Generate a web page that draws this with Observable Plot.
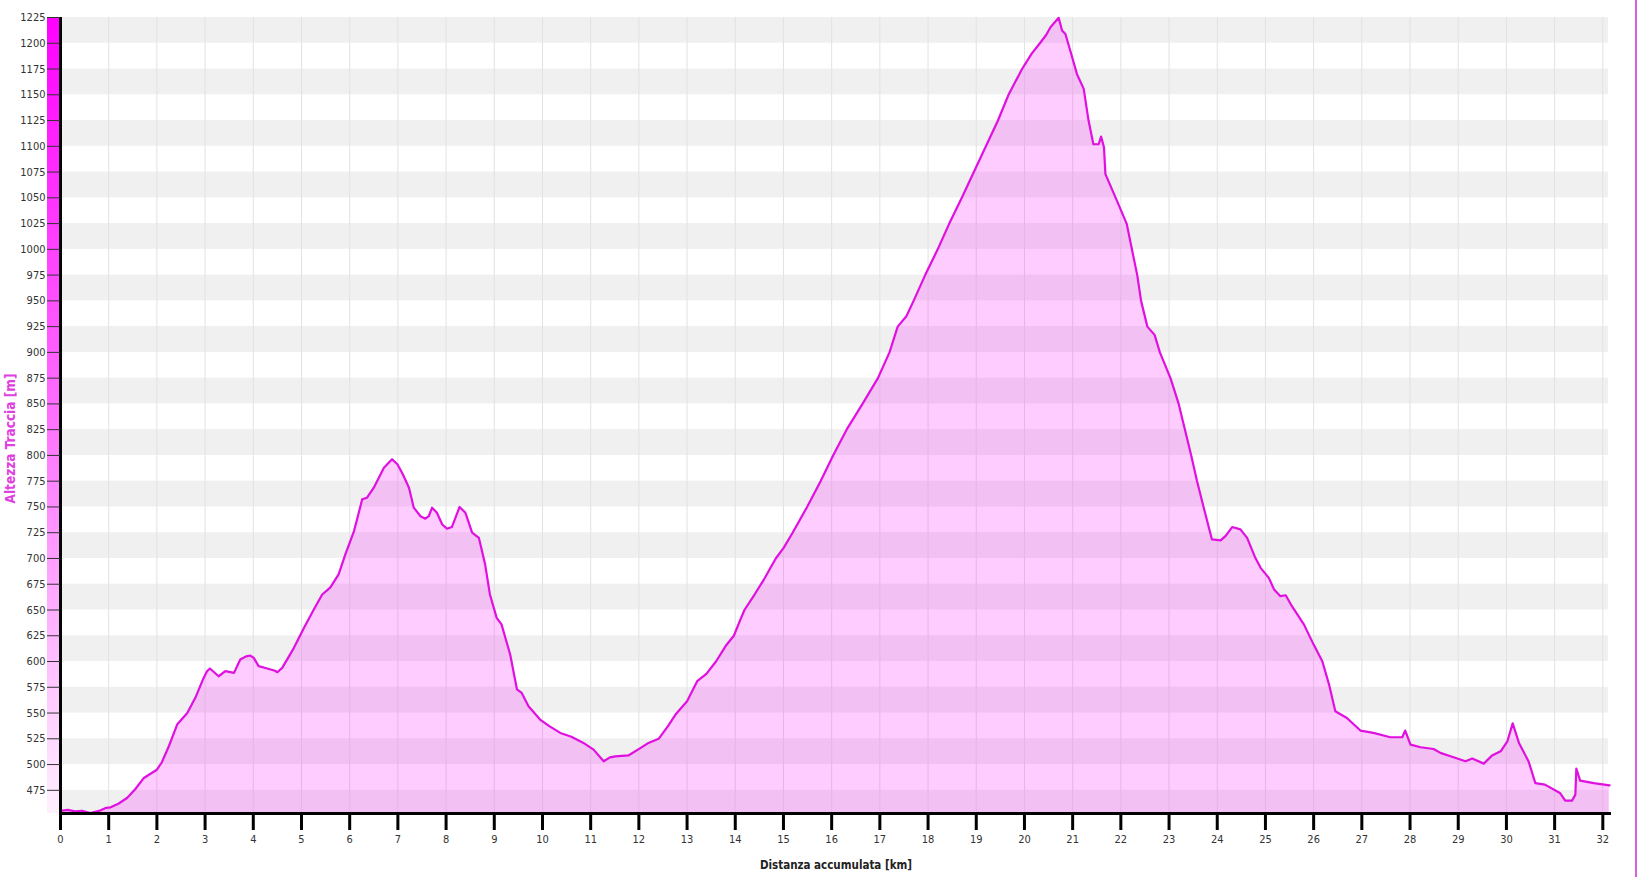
<!DOCTYPE html>
<html><head><meta charset="utf-8">
<script src="https://cdn.jsdelivr.net/npm/d3@7"></script>
<script src="https://cdn.jsdelivr.net/npm/@observablehq/plot@0.6"></script>
<style>body{margin:0;background:#fff;overflow:hidden}</style>
</head><body><div id="chart"></div>
<script>
// Distance along the track (km) and elevation (m)
const km = [0.00,0.15,0.30,0.45,0.62,0.80,0.95,1.04,1.20,1.38,1.55,1.73,1.90,2.00,2.10,2.25,2.42,2.63,2.80,2.95,3.04,3.10,3.28,3.42,3.50,3.60,3.73,3.85,3.94,4.01,4.11,4.29,4.45,4.50,4.60,4.84,5.05,5.25,5.43,5.53,5.60,5.77,5.91,6.09,6.26,6.36,6.50,6.71,6.88,6.99,7.10,7.23,7.33,7.47,7.57,7.64,7.71,7.81,7.92,8.02,8.12,8.28,8.40,8.54,8.68,8.81,8.91,9.05,9.15,9.33,9.47,9.57,9.71,9.95,10.15,10.37,10.60,10.85,11.06,11.27,11.40,11.51,11.79,12.03,12.20,12.41,12.60,12.76,13.00,13.21,13.40,13.60,13.80,13.97,14.10,14.19,14.40,14.60,14.84,15.00,15.19,15.49,15.77,16.03,16.31,16.64,16.96,17.20,17.37,17.55,17.70,17.94,18.20,18.44,18.70,18.95,19.20,19.45,19.67,19.95,20.15,20.32,20.45,20.54,20.71,20.78,20.85,20.95,21.09,21.23,21.33,21.43,21.54,21.59,21.65,21.68,21.92,22.12,22.23,22.34,22.42,22.55,22.70,22.81,23.03,23.20,23.33,23.46,23.58,23.72,23.89,24.07,24.17,24.31,24.48,24.62,24.79,24.90,25.07,25.18,25.31,25.42,25.55,25.80,26.00,26.18,26.32,26.45,26.69,26.97,27.24,27.59,27.84,27.90,28.01,28.22,28.49,28.63,28.84,29.15,29.29,29.53,29.70,29.88,30.02,30.13,30.26,30.46,30.60,30.80,31.11,31.22,31.36,31.43,31.45,31.53,31.81,32.14];
const elev = [455,456,454.5,455,453,455,458,458.5,462,467.5,476,487,492,495,502,518,538.8,550,565,582,590.6,593.2,585.7,590.6,590,589,602,605,605.8,603.5,595.5,593.2,591,589.6,593.8,613,632.6,650,665,669,672,684.5,704,726.6,757.4,759,768.7,788,796.3,791.4,782,768.7,749.3,741,738.6,741,749.3,744.4,733,728.9,730.5,750,744.4,725,720,694.3,665,642.4,636,606.8,573,569.5,556.6,543.7,537,530.7,527,521,514.5,503.2,507,508,509,516,521,525,537,548.5,561.4,580.9,588,600,615,625,640,650,665,680,700,710,725,750,775,800,825,850,875,900,925,935,950,975,1000,1025,1050,1075,1100,1125,1150,1175,1190,1200,1208,1215.6,1224.7,1212.4,1209,1193,1170,1155.7,1125,1102,1102,1109.4,1099,1073,1047,1025,1000,975,950,925,917,900,875,850,825,800,775.2,749.2,718.5,717.5,721.7,730.5,728.2,720,700.6,690.9,681.2,669.8,663.4,664.3,653.7,635.8,616.4,600.3,577.6,551.7,545.2,533,530.7,526.5,526.5,533,519.4,516.8,515.1,511.3,508,503.2,505.8,500.9,508.7,512.9,522.6,540,521,503,482,480.5,472.4,464.9,464.9,470.8,496,484.4,482,479.8];
const xTicks = [0,1,2,3,4,5,6,7,8,9,10,11,12,13,14,15,16,17,18,19,20,21,22,23,24,25,26,27,28,29,30,31,32];
const yTicks = [475,500,525,550,575,600,625,650,675,700,725,750,775,800,825,850,875,900,925,950,975,1000,1025,1050,1075,1100,1125,1150,1175,1200,1225];
const xLabel = "Distanza accumulata [km]";
const yLabel = "Altezza Traccia [m]";
const xMax = 32.18, yMin = 452.5, yMax = 1225, bandEnd = 32.12;

const profile = km.map((d, i) => ({km: d, elev: elev[i]}));
const bands = yTicks.filter(t => (yMax - t) % 50 === 0).map(t => ({y1: Math.max(t - 25, yMin), y2: t}));

const chart = Plot.plot({
  width: 1638, height: 877,
  marginLeft: 60, marginRight: 27, marginTop: 17, marginBottom: 64,
  x: {domain: [0, xMax]},
  y: {domain: [yMin, yMax]},
  style: {fontFamily: "'DejaVu Sans Condensed', 'DejaVu Sans', sans-serif", fontSize: "11px", color: "#333", background: "#fff"},
  marks: [
    Plot.rect(bands, {x1: 0, x2: bandEnd, y1: "y1", y2: "y2", fill: "#f0f0f0"}),
    Plot.ruleX(xTicks, {stroke: "#e2e2e2", strokeWidth: 1}),
    Plot.areaY(profile, {x: "km", y1: yMin, y2: "elev", fill: "#ff00ff", fillOpacity: 0.2}),
    Plot.lineY(profile, {x: "km", y: "elev", stroke: "#e010e0", strokeWidth: 2.2}),
    Plot.ruleX([0], {stroke: "black", strokeWidth: 3}),
    Plot.ruleY([yMin], {x1: 0, x2: xMax, stroke: "black", strokeWidth: 3}),
    Plot.axisY({ticks: yTicks, tickSize: 13, tickPadding: 2, label: null, stroke: "#333", tickFormat: d => String(d)}),
    Plot.axisX({ticks: xTicks, tickSize: 17, tickPadding: 5, label: null, stroke: "black", strokeWidth: 3, tickFormat: d => String(d)}),
    Plot.text([xLabel], {text: d => d, frameAnchor: "bottom", dy: 55, fontWeight: "bold", fontSize: 11.5, fill: "#222"}),
    Plot.text([yLabel], {text: d => d, frameAnchor: "left", textAnchor: "middle", rotate: -90, dx: -50, dy: 23, fill: "#e040e0", fontWeight: "bold", fontSize: 13.5})
  ]
});
document.getElementById("chart").appendChild(chart);

// colour bar beside the y axis, positioned with the chart's y scale
const svg = d3.select(chart);
const ys = chart.scale("y");
svg.insert("rect", ":first-child")
  .attr("x", 47).attr("width", 13)
  .attr("y", ys.apply(yMax)).attr("height", ys.apply(yMin) - ys.apply(yMax))
  .attr("fill", "url(#elevbar)");
const grad = svg.insert("defs", ":first-child").append("linearGradient")
  .attr("id", "elevbar").attr("x1", 0).attr("x2", 0).attr("y1", 0).attr("y2", 1);
grad.append("stop").attr("offset", "0%").attr("stop-color", "#ff00ff");
grad.append("stop").attr("offset", "50%").attr("stop-color", "#ff70ff");
grad.append("stop").attr("offset", "100%").attr("stop-color", "#fff0ff");
svg.append("rect").attr("x", 1635).attr("y", 0).attr("width", 2).attr("height", 877).attr("fill", "#d860d8");
</script>
</body></html>
